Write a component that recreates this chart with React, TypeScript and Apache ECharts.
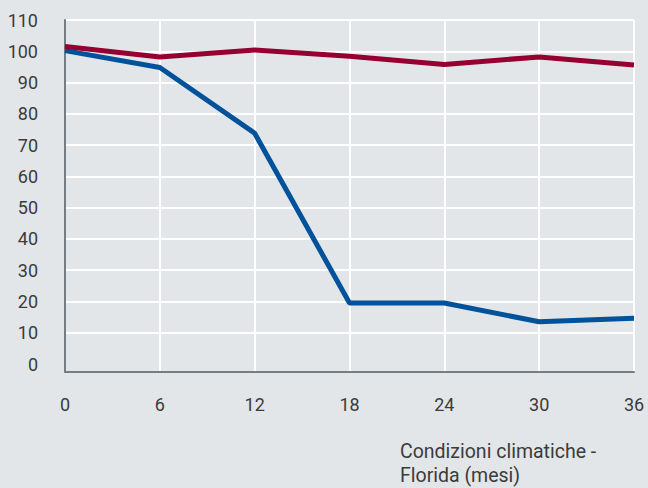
import React, { useEffect, useRef } from "react";
import * as echarts from "echarts";

const months = [0, 6, 12, 18, 24, 30, 36];
const redSeries = [101.5, 98.2, 100.4, 98.4, 95.8, 98.2, 95.6];
const blueSeries = [100.2, 94.8, 73.8, 19.5, 19.5, 13.5, 14.6];
const xAxisTitle = "Condizioni climatiche -\nFlorida (mesi)";

const BG = "#e3e6e9";
const TEXT = "#3b3b3b";
const FONT = "Roboto";

export default function App() {
  const ref = useRef<HTMLDivElement>(null);
  useEffect(() => {
    document.body.style.margin = "0";
    document.body.style.background = BG;
    const chart = echarts.init(ref.current!, undefined, { renderer: "svg" });
    chart.setOption({
      animation: false,
      backgroundColor: BG,
      textStyle: { fontFamily: FONT },
      grid: [
        { left: 65, right: 14, top: 20, bottom: 124 },
        { left: 65, right: 14, top: 20, bottom: 116 },
      ],
      xAxis: [
        {
          gridIndex: 0,
          type: "value",
          min: 0,
          max: 36,
          interval: 6,
          show: false,
        },
        {
          gridIndex: 1,
          type: "value",
          min: 0,
          max: 36,
          interval: 6,
          axisLine: { show: true, lineStyle: { color: "#737d83", width: 2 } },
          axisTick: { show: false },
          splitLine: { show: true, lineStyle: { color: "#ffffff", width: 2 } },
          axisLabel: {
            color: TEXT,
            fontSize: 18,
            fontFamily: FONT,
            margin: 23,
          },
        },
      ],
      yAxis: [
        {
          gridIndex: 0,
          type: "value",
          min: 0,
          max: 110,
          interval: 10,
          axisLine: { show: false },
          axisTick: { show: false },
          splitLine: {
            show: true,
            showMinLine: false,
            lineStyle: { color: "#ffffff", width: 2 },
          },
          axisLabel: {
            color: TEXT,
            fontSize: 18,
            fontFamily: FONT,
            margin: 27,
          },
        },
        {
          gridIndex: 1,
          type: "value",
          min: 0,
          max: 110,
          axisLine: { show: true, lineStyle: { color: "#737d83", width: 2 } },
          axisTick: { show: false },
          axisLabel: { show: false },
          splitLine: { show: false },
        },
      ],
      graphic: [
        {
          type: "text",
          left: 400,
          top: 439,
          style: {
            text: xAxisTitle,
            fill: TEXT,
            font: `19.5px ${FONT}`,
            lineHeight: 24,
          },
        },
      ],
      series: [
        {
          type: "line",
          xAxisIndex: 0,
          yAxisIndex: 0,
          data: months.map((m, i) => [m, blueSeries[i]]),
          showSymbol: false,
          lineStyle: { color: "#00529b", width: 5 },
          itemStyle: { color: "#00529b" },
          z: 3,
        },
        {
          type: "line",
          xAxisIndex: 0,
          yAxisIndex: 0,
          data: months.map((m, i) => [m, redSeries[i]]),
          showSymbol: false,
          lineStyle: { color: "#950031", width: 5 },
          itemStyle: { color: "#950031" },
          z: 4,
        },
      ],
    });
    return () => chart.dispose();
  }, []);
  return (
    <div
      ref={ref}
      style={{ position: "absolute", left: 0, top: 0, width: 648, height: 488, background: BG }}
    />
  );
}
